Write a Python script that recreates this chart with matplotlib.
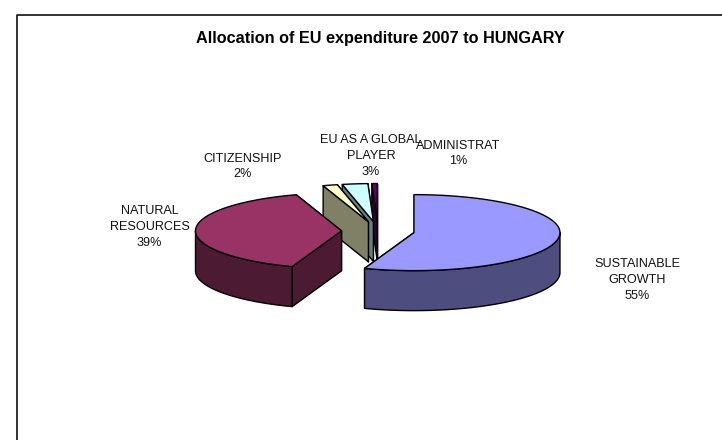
import matplotlib
matplotlib.use('Agg')
import matplotlib.pyplot as plt
from matplotlib.patches import Polygon
import numpy as np

plt.rcParams['font.family'] = ['Liberation Sans', 'DejaVu Sans']

# data, in the order of the pie (clockwise from 12 o'clock)
names = ['SUSTAINABLE\nGROWTH', 'NATURAL\nRESOURCES', 'CITIZENSHIP', 'EU AS A GLOBAL\nPLAYER', 'ADMINISTRAT']
values = [55.49, 39.49, 1.6, 2.82, 0.6]
top_colors = ['#9999FF', '#993366', '#FFFFCC', '#CCFFFF', '#660066']
side_colors = ['#4D4D80', '#4D1A33', '#808066', '#668080', '#330033']
label_xy = [(637.5, 280), (149.5, 227), (243, 166.5), (371, 156), (458, 153.5)]

# pie geometry, in pixels of the picture
cx, cy = 378, 231
rx, ry = 146, 38
depth = 40
explode = 0.25


def rim(angle, ax0, ay0):
    # angle in degrees clockwise from the top
    a = np.radians(angle)
    return ax0 + rx * np.sin(a), ay0 - ry * np.cos(a)


def draw_slice(ax, start, end, top, side, z):
    mid = np.radians((start + end) / 2)
    ax0 = cx + explode * rx * np.sin(mid)
    ay0 = cy - explode * ry * np.cos(mid)
    edge = dict(edgecolor='black', linewidth=1.0, joinstyle='round', zorder=z)

    # radial faces first
    for ang in (end, start):
        x1, y1 = rim(ang, ax0, ay0)
        ax.add_patch(Polygon([(ax0, ay0), (x1, y1), (x1, y1 + depth), (ax0, ay0 + depth)],
                             facecolor=side, **edge))

    # outer wall, only the part that faces the viewer
    w0, w1 = max(start, 90), min(end, 270)
    if w1 > w0:
        t = np.linspace(w0, w1, 80)
        xs, ys = rim(t, ax0, ay0)
        wall = list(zip(xs, ys)) + list(zip(xs[::-1], ys[::-1] + depth))
        ax.add_patch(Polygon(wall, facecolor=side, **edge))

    # top of the slice
    t = np.linspace(start, end, 120)
    xs, ys = rim(t, ax0, ay0)
    ax.add_patch(Polygon([(ax0, ay0)] + list(zip(xs, ys)), facecolor=top, **edge))


fig = plt.figure(figsize=(7.22, 4.40), dpi=100)
ax = fig.add_axes([0, 0, 1, 1])
ax.set_xlim(0, 722)
ax.set_ylim(440, 0)
ax.axis('off')

# chart frame, runs off the picture on the right and at the bottom
ax.plot([17, 17, 722], [440, 15, 15], color='#222222', lw=1.3)

ax.text(380.5, 38, 'Allocation of EU expenditure 2007 to HUNGARY', ha='center', va='center',
        fontsize=11.7, fontweight='bold', color='black')

bounds = np.concatenate([[0], np.cumsum(values)]) / sum(values) * 360
# back slices first, blue last
order = [4, 3, 2, 1, 0]
for z, i in enumerate(order):
    draw_slice(ax, bounds[i], bounds[i + 1], top_colors[i], side_colors[i], 2 + z)

for name, v, (lx, ly) in zip(names, values, label_xy):
    ax.text(lx, ly, f'{name}\n{v:.0f}%', ha='center', va='center', fontsize=9.1,
            color='#111111', linespacing=1.44, zorder=10)

fig.savefig('out.png', dpi=100)
